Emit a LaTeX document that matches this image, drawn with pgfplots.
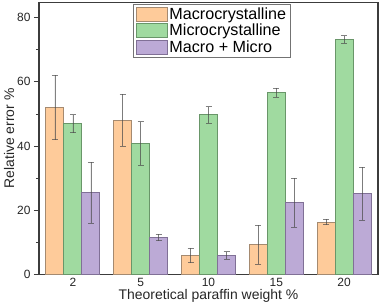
\documentclass[border=0pt]{standalone}
\usepackage{pgfplots}
\pgfplotsset{compat=1.18}
\usepackage{pgfplotstable}
\usepackage{fontspec}
\setmainfont{Liberation Sans}

\definecolor{macroFill}{RGB}{254,203,154}
\definecolor{macroEdge}{RGB}{165,138,112}
\definecolor{microFill}{RGB}{160,218,160}
\definecolor{microEdge}{RGB}{105,150,105}
\definecolor{mixFill}{RGB}{188,170,214}
\definecolor{mixEdge}{RGB}{128,112,150}
\definecolor{frame}{RGB}{60,60,60}

% x: category index (2, 5, 10, 15, 20 wt%), y: mean relative error, e: std. deviation
\pgfplotstableread{
x  y     e
0  52.0  10.0
1  48.1  8.1
2  5.9   2.3
3  9.2   6.1
4  16.3  0.8
}\macro
\pgfplotstableread{
x  y     e
0  47.0  2.8
1  40.8  6.8
2  49.7  2.6
3  56.7  1.4
4  73.2  1.2
}\micro
\pgfplotstableread{
x  y     e
0  25.5  9.5
1  11.5  1.0
2  5.9   1.2
3  22.3  7.6
4  25.1  8.3
}\mixed

\newcommand\legfont{\fontsize{16.2}{16.5}\selectfont}

\begin{document}
\begin{tikzpicture}
\begin{axis}[
  scale only axis,
  width=339bp, height=272bp,
  xmin=-0.5, xmax=4.5,
  ymin=0, ymax=84.8,
  ybar=0pt,
  bar width=18bp,
  xtick={0,1,2,3,4},
  xticklabels={2,5,10,15,20},
  ytick={0,20,40,60,80},
  minor ytick={10,30,50,70},
  xtick pos=bottom, ytick pos=left,
  tick align=outside,
  major tick length=5bp,
  minor tick length=3bp,
  xtick style={draw=none},
  ytick style={frame, line width=0.8bp},
  minor tick style={frame, line width=0.8bp},
  axis line style={frame, line width=1.2bp},
  /pgf/number format/assume math mode=true,
  tick label style={font=\fontsize{12}{12}\selectfont, text=black!85},
  xticklabel style={inner sep=0.5bp, yshift=1.5bp},
  xlabel={Theoretical paraffin weight \%},
  ylabel={Relative error \%},
  label style={font=\fontsize{14}{14}\selectfont, text=black!85},
  xlabel style={inner sep=0.5bp, yshift=-1.5bp},
  ylabel style={yshift=-4bp},
  legend style={
    at={(0.277,0.993)}, anchor=north west,
    draw=black!55, line width=0.6bp,
    font=\legfont,
    cells={anchor=west},
    row sep=-1bp,
    inner xsep=2.5bp, inner ysep=1.5bp,
  },
  legend image code/.code={
    \draw[#1] (0bp,-7bp) rectangle (31bp,7bp);
  },
  error bars/y dir=both,
  error bars/y explicit,
  error bars/error bar style={black!70, opacity=0.7, line width=0.7bp},
  error bars/error mark options={rotate=90, mark size=3bp, black!70, line width=0.7bp},
]
\addplot[fill=macroFill, draw=macroEdge, line width=0.8bp]
  table[x=x, y=y, y error=e] {\macro};
\addplot[fill=microFill, draw=microEdge, line width=0.8bp]
  table[x=x, y=y, y error=e] {\micro};
\addplot[fill=mixFill, draw=mixEdge, line width=0.8bp]
  table[x=x, y=y, y error=e] {\mixed};
\legend{Macrocrystalline, Microcrystalline, Macro + Micro}
\end{axis}
\pgfresetboundingbox
\path (current axis.south west) ++(-39bp,-31.7bp) rectangle ++(380bp,306bp);
\end{tikzpicture}
\end{document}
